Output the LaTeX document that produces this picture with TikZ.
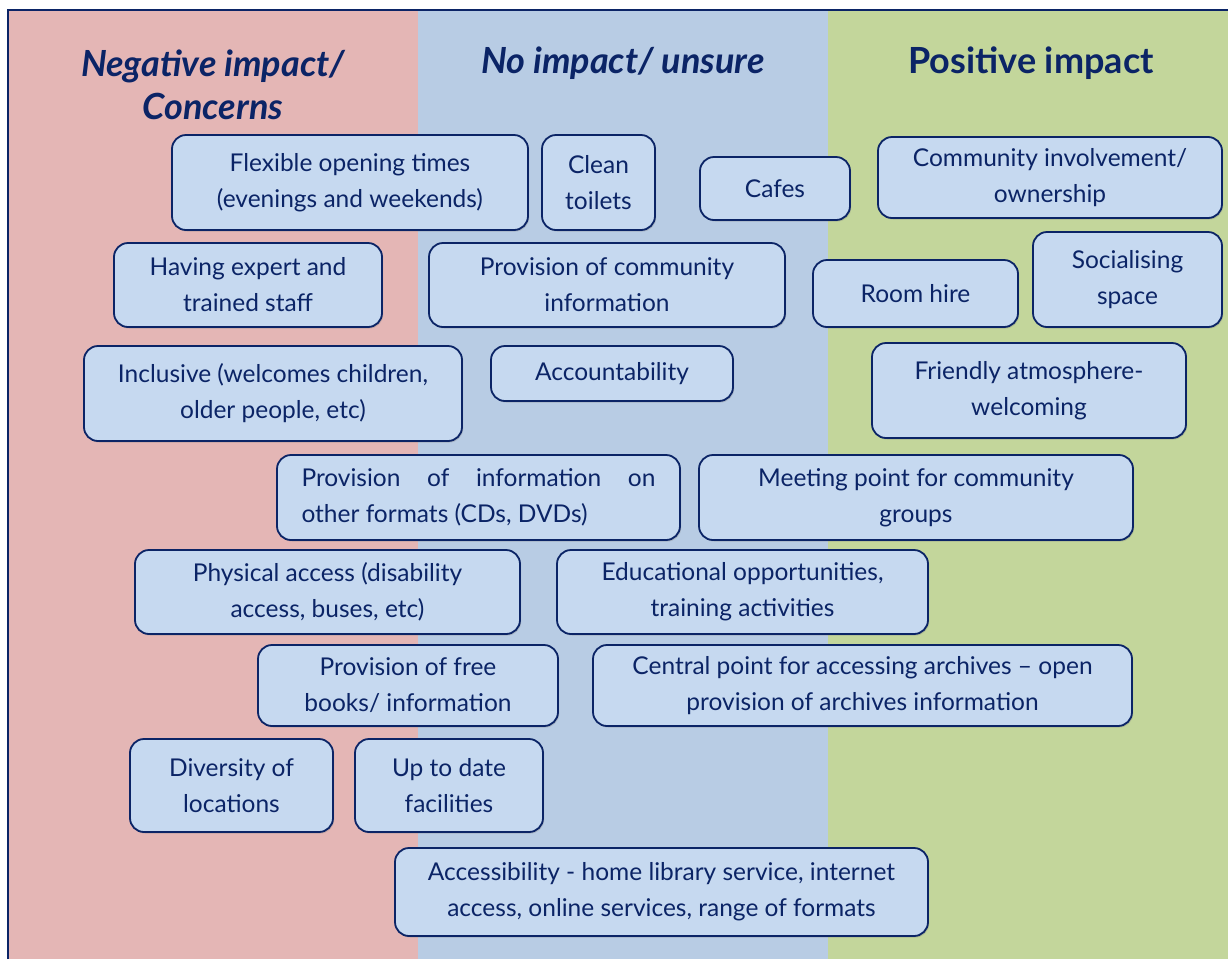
\documentclass[tikz,border=0pt]{standalone}
\usepackage{fontspec}
\setmainfont{Lato}
\usetikzlibrary{shadows}

\definecolor{navy}{HTML}{0B2466}
\definecolor{negred}{HTML}{E4B6B5}
\definecolor{noneblue}{HTML}{B8CCE4}
\definecolor{posgreen}{HTML}{C3D69B}
\definecolor{cardfill}{HTML}{C6D9F0}

\tikzset{
  card/.style={draw=navy, line width=1.8pt, fill=cardfill, rounded corners=14pt,
    align=center, text=navy, inner sep=0pt,
    font=\fontsize{24.5}{36}\selectfont,
    drop shadow={shadow xshift=1.2pt, shadow yshift=-1.5pt, opacity=0.35}},
  heading/.style={text=navy, align=center, font=\fontsize{36}{43}\selectfont\bfseries}
}

\begin{document}
\begin{tikzpicture}[x=1pt, y=-1pt]
    \useasboundingbox (0, 0) rectangle (1228, 959);

    \begin{scope}
      \fill[negred] (8, 10) rectangle (418, 959);
      \fill[noneblue] (418, 10) rectangle (828, 959);
      \fill[posgreen] (828, 10) rectangle (1228, 959);
      \draw[navy, line width=2.5pt] (8, 959) -- (8, 10) -- (1228, 10);
    \end{scope}

    \node[heading] (negative) at (213, 85) {\itshape Negative impact/\\\itshape Concerns};
    \node[heading, anchor=base] (noimpact) at (623, 73) {\itshape No impact/ unsure};
    \node[heading, anchor=base] (positive) at (1031, 73) {Positive impact};

    \node[card, minimum width=356pt, minimum height=95pt] (opening) at (350, 182.5)
      {Flexible opening times\\(evenings and weekends)};
    \node[card, minimum width=113pt, minimum height=95pt] (toilets) at (598.5, 182.5)
      {Clean\\toilets};
    \node[card, minimum width=150pt, minimum height=63pt] (cafes) at (775, 188.5)
      {Cafes};
    \node[card, minimum width=344pt, minimum height=81pt] (ownership) at (1050, 177.5)
      {Community involvement/\\ownership};

    \node[card, minimum width=268pt, minimum height=84pt] (staff) at (248, 285)
      {Having expert and\\trained staff};
    \node[card, minimum width=356pt, minimum height=84pt] (commtinfo) at (607, 285)
      {Provision of community\\information};
    \node[card, minimum width=205pt, minimum height=67pt] (roomhire) at (915.5, 293.5)
      {Room hire};
    \node[card, minimum width=189pt, minimum height=95pt] (socialising) at (1127.5, 279.5)
      {Socialising\\space};

    \node[card, minimum width=378pt, minimum height=95pt] (inclusive) at (273, 393.5)
      {Inclusive (welcomes children,\\older people, etc)};
    \node[card, minimum width=242pt, minimum height=55pt] (accountability) at (612, 373.5)
      {Accountability};
    \node[card, minimum width=314pt, minimum height=95pt] (friendly) at (1029, 390.5)
      {Friendly atmosphere-\\welcoming};

    \node[card, align=left, minimum width=403pt, minimum height=85pt] (formats) at (478.5, 497.5)
      {\makebox[354pt][s]{Provision of information on}\\other formats (CDs, DVDs)};
    \node[card, minimum width=434pt, minimum height=85pt] (meeting) at (916, 497.5)
      {Meeting point for community\\groups};

    \node[card, minimum width=385pt, minimum height=84pt] (physical) at (327.5, 592)
      {Physical access (disability\\access, buses, etc)};
    \node[card, minimum width=371pt, minimum height=84pt] (educational) at (742.5, 592)
      {Educational opportunities,\\training activities};

    \node[card, minimum width=300pt, minimum height=81pt] (freebooks) at (408, 685.5)
      {Provision of free\\books/ information};
    \node[card, minimum width=539pt, minimum height=81pt] (archives) at (862.5, 685.5)
      {Central point for accessing archives -- open\\provision of archives information};

    \node[card, minimum width=203pt, minimum height=93pt] (diversity) at (231.5, 785.5)
      {Diversity of\\locations};
    \node[card, minimum width=188pt, minimum height=93pt] (facilities) at (449, 785.5)
      {Up to date\\facilities};

    \node[card, minimum width=533pt, minimum height=88pt] (accessibility) at (661.5, 892)
      {Accessibility - home library service, internet\\access, online services, range of formats};
\end{tikzpicture}
\end{document}
